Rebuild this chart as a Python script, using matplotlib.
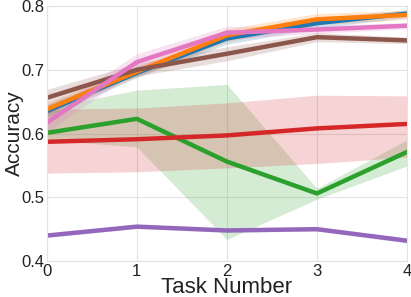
import matplotlib
matplotlib.use("Agg")
import matplotlib.pyplot as plt

plt.rcParams['font.family'] = ['Liberation Sans', 'DejaVu Sans']

tasks = [0, 1, 2, 3, 4]

# mean accuracy per method, and lower/upper of the shaded band
blue = [0.635, 0.695, 0.749, 0.773, 0.788]
blue_lo = [0.625, 0.688, 0.740, 0.765, 0.782]
blue_hi = [0.645, 0.702, 0.758, 0.781, 0.794]

orange = [0.638, 0.697, 0.754, 0.779, 0.786]
orange_lo = [0.628, 0.689, 0.744, 0.770, 0.779]
orange_hi = [0.648, 0.705, 0.764, 0.788, 0.793]

green = [0.601, 0.623, 0.556, 0.506, 0.571]
green_lo = [0.590, 0.579, 0.434, 0.497, 0.549]
green_hi = [0.640, 0.668, 0.677, 0.514, 0.590]

red = [0.587, 0.591, 0.597, 0.608, 0.615]
red_lo = [0.538, 0.540, 0.546, 0.553, 0.563]
red_hi = [0.638, 0.640, 0.648, 0.660, 0.659]

purple = [0.440, 0.454, 0.448, 0.450, 0.432]
purple_lo = [0.437, 0.451, 0.445, 0.447, 0.428]
purple_hi = [0.443, 0.457, 0.451, 0.453, 0.436]

brown = [0.656, 0.700, 0.725, 0.751, 0.746]
brown_lo = [0.643, 0.690, 0.714, 0.744, 0.741]
brown_hi = [0.669, 0.710, 0.736, 0.758, 0.751]

pink = [0.617, 0.712, 0.758, 0.763, 0.769]
pink_lo = [0.602, 0.700, 0.748, 0.757, 0.764]
pink_hi = [0.632, 0.725, 0.768, 0.769, 0.774]

series = [
    (blue, blue_lo, blue_hi, 'C0'),
    (orange, orange_lo, orange_hi, 'C1'),
    (green, green_lo, green_hi, 'C2'),
    (red, red_lo, red_hi, 'C3'),
    (purple, purple_lo, purple_hi, 'C4'),
    (brown, brown_lo, brown_hi, 'C5'),
    (pink, pink_lo, pink_hi, 'C6'),
]

fig = plt.figure(figsize=(4.11, 2.97), dpi=100)
ax = fig.add_axes([0.114, 0.121, 0.876, 0.859])

for mean, lo, hi, col in series:
    ax.fill_between(tasks, lo, hi, color=col, alpha=0.2, linewidth=0)
    ax.plot(tasks, mean, color=col, lw=3.2)

ax.set_xlim(0, 4)
ax.set_ylim(0.4, 0.8)
ax.set_xticks(tasks)
ax.set_yticks([0.4, 0.5, 0.6, 0.7, 0.8])
ax.grid(True, color='#e3e3e3', lw=0.8)
ax.set_axisbelow(True)
for s in ax.spines.values():
    s.set_color('#e3e3e3')
ax.tick_params(length=0, labelsize=12, pad=2, colors='#222222')
ax.tick_params(axis='y', pad=1.5)
ax.set_xlabel('Task Number', fontsize=16, labelpad=-1, color='#222222')
ax.set_ylabel('Accuracy', fontsize=15, color='#222222')
ax.yaxis.set_label_coords(-0.064, 0.5)

fig.savefig('out.png', dpi=100)
